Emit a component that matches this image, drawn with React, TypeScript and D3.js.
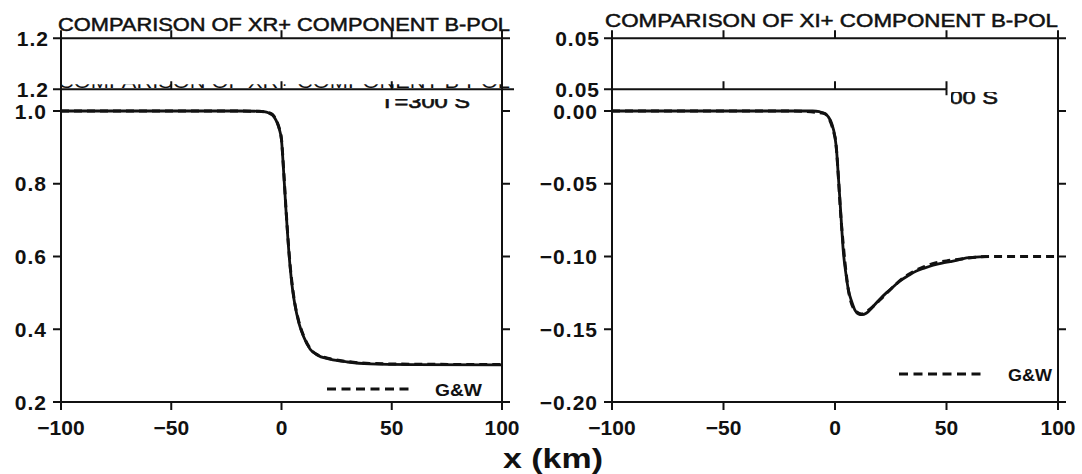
import React from "react";
import * as d3 from "d3";

// ---------- data ----------
const xTicks = [-100, -50, 0, 50, 100];
const xrTicks = [0.2, 0.4, 0.6, 0.8, 1.0, 1.2];
const xiTicks = [-0.2, -0.15, -0.1, -0.05, 0.0, 0.05];

const xrX = [-100, -60, -20, -10, -8, -6, -4, -3, -2, -1, 0, 1, 2, 3, 4, 5, 6, 8, 10, 13, 16, 22, 30, 40, 60, 100];
const xrSolid = [1.0, 1.0, 1.0, 0.999, 0.998, 0.995, 0.988, 0.98, 0.968, 0.95, 0.92, 0.83, 0.73, 0.64, 0.565, 0.51, 0.47, 0.415, 0.38, 0.345, 0.33, 0.318, 0.31, 0.305, 0.303, 0.302];
const xrGW = [1.0, 1.0, 1.0, 0.999, 0.998, 0.996, 0.99, 0.982, 0.97, 0.952, 0.922, 0.835, 0.735, 0.645, 0.57, 0.515, 0.473, 0.418, 0.382, 0.347, 0.331, 0.319, 0.311, 0.306, 0.304, 0.303];

const xiX = [-100, -60, -20, -10, -7, -5, -3, -1.5, 0, 0.7, 1.5, 2.2, 3, 3.7, 5, 6, 7.5, 9, 10.5, 12, 14, 17, 20, 23, 26, 29, 33, 36.5, 40, 44, 48, 51.6, 55, 59, 63, 68];
const xiSolid = [0, 0, 0, 0, -0.0005, -0.0015, -0.004, -0.0085, -0.018, -0.027, -0.045, -0.061, -0.08, -0.096, -0.113, -0.123, -0.131, -0.137, -0.1395, -0.14, -0.139, -0.1345, -0.1295, -0.125, -0.121, -0.117, -0.113, -0.11, -0.108, -0.106, -0.1045, -0.1035, -0.1025, -0.101, -0.1005, -0.1];
const xiGWX = [-100, -20, -5, 0, 3, 6, 9, 12, 15, 20, 25, 30, 35, 40, 45, 50, 55, 60, 70, 80, 90, 100];
const xiGW = [0, 0, -0.0015, -0.018, -0.08, -0.123, -0.137, -0.1395, -0.137, -0.13, -0.1225, -0.1155, -0.1105, -0.107, -0.1045, -0.103, -0.102, -0.101, -0.1, -0.1, -0.1, -0.1];

const titles = ["COMPARISON OF XR+ COMPONENT B-POL", "COMPARISON OF XI+ COMPONENT B-POL"];
const timeLabel = "T=300 S";
const legendLabel = "G&W";
const xAxisTitle = "x (km)";

// ---------- layout ----------
const W = 1082;
const H = 474;
const Y_RANGE: [number, number] = [402, 38.25];
const DUP_OFFSET = 51;
const TICK = 8;
const INK = "#111";
const LABEL_FONT = "'Liberation Sans', Arial, sans-serif";

type Cfg = {
  id: string;
  title: string;
  titleX: [number, number];
  titleBase: number;
  xRange: [number, number];
  yDomain: [number, number];
  yTicks: number[];
  fmt: (v: number) => string;
  solidX: number[];
  solidY: number[];
  gwX: number[];
  gwY: number[];
  legend: { x0: number; x1: number; y: number; tx: number; tw: number };
  tText: { xEnd: number; base: number; clipX: number; clipY: number };
  dupEnd: number | null;
  showDupTitle: boolean;
};

const minusFmt = (f: (v: number) => string) => (v: number) => f(v).replace("-", "\u2212");

const panels: Cfg[] = [
  {
    id: "l",
    title: titles[0],
    titleX: [58, 510],
    titleBase: 31,
    xRange: [61, 502],
    yDomain: [0.2, 1.2],
    yTicks: xrTicks,
    fmt: minusFmt(d3.format(".1f")),
    solidX: xrX,
    solidY: xrSolid,
    gwX: xrX,
    gwY: xrGW,
    legend: { x0: 327, x1: 412, y: 389, tx: 435, tw: 47 },
    tText: { xEnd: 470, base: 108, clipX: 0, clipY: 99 },
    dupEnd: null,
    showDupTitle: true,
  },
  {
    id: "r",
    title: titles[1],
    titleX: [605, 1058],
    titleBase: 27,
    xRange: [612, 1058],
    yDomain: [-0.2, 0.05],
    yTicks: xiTicks,
    fmt: minusFmt(d3.format(".2f")),
    solidX: xiX,
    solidY: xiSolid,
    gwX: xiGWX,
    gwY: xiGW,
    legend: { x0: 899, x1: 983, y: 374, tx: 1008, tw: 44 },
    tText: { xEnd: 998, base: 104, clipX: 951, clipY: 92 },
    dupEnd: 50,
    showDupTitle: false,
  },
];

function Panel({ c }: { c: Cfg }) {
  const x = d3.scaleLinear().domain([-100, 100]).range(c.xRange);
  const y = d3.scaleLinear().domain(c.yDomain).range(Y_RANGE);
  const [x0, x1] = c.xRange;
  const yTop = y(c.yDomain[1]);
  const yBot = y(c.yDomain[0]);
  const dupY = yTop + DUP_OFFSET;
  const dupX1 = c.dupEnd === null ? x1 : x(c.dupEnd);
  const dupTicks = xTicks.filter((t) => x(t) <= dupX1 + 0.5);

  const mk = (xs: number[], ys: number[]) =>
    d3
      .line<number>()
      .x((d) => x(d))
      .y((_, i) => y(ys[i]))
      .curve(d3.curveMonotoneX)(xs) || "";

  const lbl = { fontFamily: LABEL_FONT, fontWeight: 700, fontSize: 21, fill: INK } as const;
  const yLabelTicks = c.yTicks.filter((t) => t < c.yDomain[1] - 1e-9);

  return (
    <g>
      {/* title */}
      <text
        x={c.titleX[0]}
        y={c.titleBase}
        textLength={c.titleX[1] - c.titleX[0]}
        lengthAdjust="spacingAndGlyphs"
        fontFamily={LABEL_FONT}
        fontSize={19}
        fill={INK}
        stroke={INK}
        strokeWidth={0.5}
      >
        {c.title}
      </text>

      {/* duplicated scan strip: partial title fragments */}
      <clipPath id={`dupclip-${c.id}`}>
        <rect x={x0} y={dupY - 5} width={x1 - x0 + 10} height={4} />
      </clipPath>
      {c.showDupTitle && (
        <text
          x={c.titleX[0]}
          y={dupY - 1}
          textLength={c.titleX[1] - c.titleX[0]}
          lengthAdjust="spacingAndGlyphs"
          fontFamily={LABEL_FONT}
          fontSize={19}
          fill={INK}
          clipPath={`url(#dupclip-${c.id})`}
        >
          {c.title}
        </text>
      )}

      {/* frame */}
      <line x1={x0} x2={x0} y1={yTop} y2={yBot} stroke={INK} strokeWidth={2} />
      <line x1={x1} x2={x1} y1={yTop} y2={yBot} stroke={INK} strokeWidth={2} />
      <line x1={x0} x2={x1} y1={yBot} y2={yBot} stroke={INK} strokeWidth={2} />
      <line x1={x0} x2={x1} y1={yTop} y2={yTop} stroke={INK} strokeWidth={2} />
      {/* duplicated top line */}
      <line x1={x0} x2={dupX1} y1={dupY} y2={dupY} stroke={INK} strokeWidth={2} />

      {/* bottom ticks + labels */}
      {xTicks.map((t) => (
        <g key={`bx${t}`}>
          <line x1={x(t)} x2={x(t)} y1={yBot} y2={yBot + TICK} stroke={INK} strokeWidth={2} />
          <text x={x(t)} y={yBot + 33} textAnchor="middle" {...lbl}>
            {t < 0 ? "\u2212" + Math.abs(t) : String(t)}
          </text>
        </g>
      ))}
      {/* top ticks */}
      {xTicks.map((t) => (
        <line key={`tx${t}`} x1={x(t)} x2={x(t)} y1={yTop} y2={yTop - TICK} stroke={INK} strokeWidth={2} />
      ))}
      {/* dup line ticks */}
      {dupTicks.map((t) => (
        <line key={`dx${t}`} x1={x(t)} x2={x(t)} y1={dupY} y2={dupY - TICK} stroke={INK} strokeWidth={2} />
      ))}
      <line x1={x0} x2={x0 - TICK} y1={dupY} y2={dupY} stroke={INK} strokeWidth={2} />
      <line x1={x0} x2={x0} y1={dupY} y2={dupY + 6} stroke={INK} strokeWidth={2} />
      <line x1={dupX1} x2={dupX1} y1={dupY} y2={dupY + 6} stroke={INK} strokeWidth={2} />
      {c.dupEnd === null && (
        <line x1={x1} x2={x1 + TICK + 4} y1={dupY} y2={dupY} stroke={INK} strokeWidth={2} />
      )}
      <text x={x0 - 12} y={dupY} dy="0.36em" textAnchor="end" {...lbl} letterSpacing={1}>
        {c.fmt(c.yDomain[1])}
      </text>

      {/* left/right ticks */}
      {c.yTicks.map((t) => (
        <g key={`y${t}`}>
          <line x1={x0} x2={x0 - TICK} y1={y(t)} y2={y(t)} stroke={INK} strokeWidth={2} />
          <line x1={x1} x2={x1 + TICK} y1={y(t)} y2={y(t)} stroke={INK} strokeWidth={2} />
        </g>
      ))}
      {yLabelTicks.map((t) => (
        <text key={`yl${t}`} x={x0 - 14} y={y(t)} dy="0.36em" textAnchor="end" {...lbl} letterSpacing={1}>
          {c.fmt(t)}
        </text>
      ))}
      <text x={x0 - 12} y={yTop} dy="0.36em" textAnchor="end" {...lbl} letterSpacing={1}>
        {c.fmt(c.yDomain[1])}
      </text>

      {/* T=300 S, partially cut off */}
      <clipPath id={`tclip-${c.id}`}>
        <rect x={c.tText.clipX} y={c.tText.clipY} width={W} height={40} />
      </clipPath>
      <text
        x={c.tText.xEnd}
        y={c.tText.base}
        textAnchor="end"
        textLength={90}
        lengthAdjust="spacingAndGlyphs"
        fontFamily={LABEL_FONT}
        fontSize={19}
        fill={INK}
        stroke={INK}
        strokeWidth={0.6}
        clipPath={`url(#tclip-${c.id})`}
      >
        {timeLabel}
      </text>

      {/* curves */}
      <path d={mk(c.gwX, c.gwY)} fill="none" stroke={INK} strokeWidth={3} strokeDasharray="8,5" />
      <path d={mk(c.solidX, c.solidY)} fill="none" stroke={INK} strokeWidth={2.8} strokeLinejoin="round" />

      {/* legend */}
      <line
        x1={c.legend.x0}
        x2={c.legend.x1}
        y1={c.legend.y}
        y2={c.legend.y}
        stroke={INK}
        strokeWidth={3}
        strokeDasharray="9,5.5"
      />
      <text
        x={c.legend.tx}
        y={c.legend.y + 7}
        textLength={c.legend.tw}
        lengthAdjust="spacingAndGlyphs"
        fontFamily={LABEL_FONT}
        fontWeight={700}
        fontSize={17}
        fill={INK}
      >
        {legendLabel}
      </text>
    </g>
  );
}

export default function App() {
  return (
    <svg
      width={W}
      height={H}
      viewBox={`0 0 ${W} ${H}`}
      style={{ position: "absolute", left: 0, top: 0, background: "#fff" }}
    >
      <rect x={0} y={0} width={W} height={H} fill="#fff" />
      {panels.map((c) => (
        <Panel key={c.id} c={c} />
      ))}
      <text
        x={503}
        y={468}
        textLength={100}
        lengthAdjust="spacingAndGlyphs"
        fontFamily={LABEL_FONT}
        fontWeight={700}
        fontSize={27}
        fill={INK}
      >
        {xAxisTitle}
      </text>
    </svg>
  );
}
